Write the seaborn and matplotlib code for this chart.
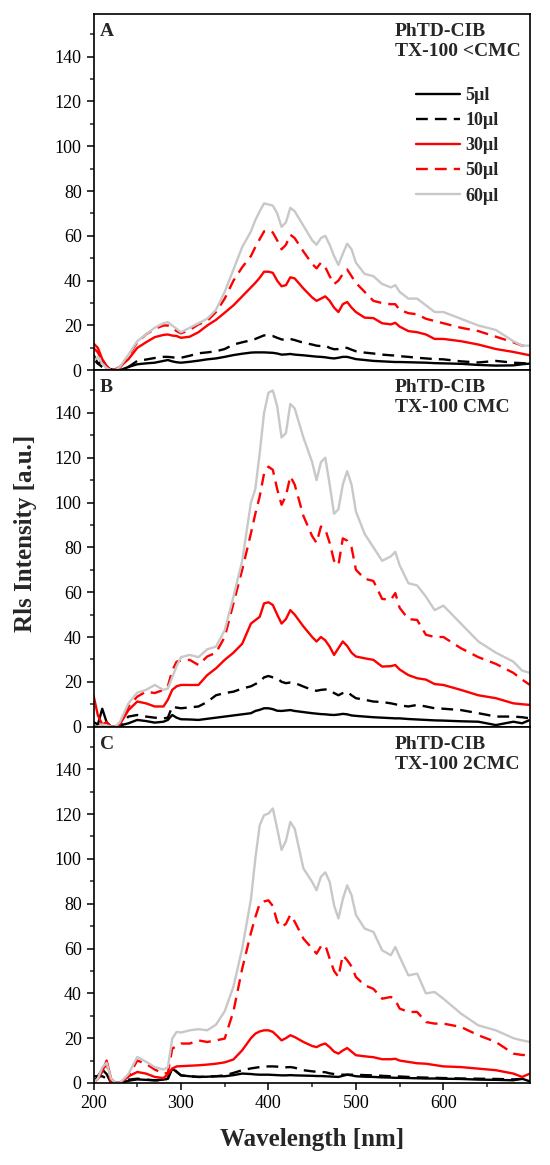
#!/usr/bin/env python3
"""RLS spectra of PhTD-CIB with TX-100 at three surfactant levels."""
import numpy as np
import pandas as pd
import matplotlib
matplotlib.use("Agg")
import matplotlib.pyplot as plt
from matplotlib.ticker import MultipleLocator
import seaborn as sns

wavelength = [200, 205, 210, 215, 220, 225, 230,
              240, 250, 260, 270, 280, 285, 290, 295, 300,
              310, 320, 330, 340, 350, 360, 370, 380, 385, 390, 395, 400, 405, 410, 415, 420, 425, 430,
              440, 450, 455, 460, 465, 470, 475, 480, 485, 490, 495, 500,
              510, 520, 530, 540, 545, 550, 560, 570, 580, 590, 600,
              620, 640, 660, 680, 690, 699]

labels = ["5µl", "10µl", "30µl", "50µl", "60µl"]

# panel A: TX-100 < CMC
a_5 = [7, 3, 4, 1, 0.5, 0, 0,
       1.5, 2.7, 3.1, 3.4, 4.2, 4.6, 4, 3.6, 3.4,
       3.8, 4.3, 4.9, 5.3, 6, 6.8, 7.4, 7.9, 8, 8, 8, 7.9, 7.8, 7.5, 7, 7.1, 7.3, 7,
       6.7, 6.3, 6.1, 6, 5.8, 5.5, 5.3, 5.6, 6, 6, 5.5, 5,
       4.6, 4.2, 4, 3.8, 3.7, 3.7, 3.6, 3.5, 3.4, 3.2, 3.1,
       2.9, 2.4, 2.1, 2.2, 2.7, 3]
a_10 = [5, 3, 1.5, 0.5, 0, 0, 0.5,
        1.5, 4.2, 4.8, 5.5, 6, 6, 5.8, 5.6, 5.6,
        6.5, 7.6, 8, 8.5, 9.5, 11.5, 12.5, 13.4, 14, 14.8, 15.6, 15.5, 15.3, 14.5, 13.8, 13.5, 14, 13.5,
        12.3, 11.5, 11, 10.8, 11, 10, 9.4, 9.5, 10, 10, 9.2, 8.5,
        7.9, 7.5, 7, 6.7, 6.6, 6.3, 6, 5.6, 5.3, 5, 4.9,
        4, 3.5, 4.2, 3.4, 3.2, 3]
a_30 = [12, 10, 5, 2, 0, 0.5, 1.5,
        5, 10, 12.5, 14.8, 15.8, 16, 15.5, 15.3, 14.5,
        15, 17, 20, 22.5, 25.7, 29, 33, 37, 39, 41.3, 44, 44, 43.5, 40, 37.5, 38, 41.5, 41,
        36.5, 32.5, 31, 32, 33, 31, 28, 26, 29.5, 30.5, 28, 26,
        23.5, 23.3, 21, 20.5, 21.2, 19.5, 17.5, 17, 16, 14, 14,
        13, 11.5, 9.5, 8.2, 7.4, 6.7]
a_50 = [10, 8, 4, 1.5, 0, 0, 1,
        6.5, 12.5, 16, 18.5, 20, 20, 19, 17.5, 16.5,
        18, 20.5, 22, 26, 32, 40, 46, 51, 55, 58.5, 62, 62.5, 61.5, 58, 54, 56, 60.5, 59,
        53, 47.5, 45.5, 48, 46, 42, 38.5, 40, 43, 45, 42, 39,
        35, 31, 30, 29.5, 29.5, 27, 25.5, 25, 23, 22, 21,
        19, 17.5, 15, 12.5, 11, 10.5]
a_60 = [4, 6, 3, 1, 0, 0, 1.5,
        7, 13, 16, 19, 21, 21.5, 20, 18.5, 17,
        19, 21, 23, 27, 35, 45, 55, 62, 67, 71, 74.5, 74, 73.5, 70, 64, 66, 72.5, 71,
        64.5, 58, 56, 59, 60, 56, 51, 47, 52, 56.5, 54, 48,
        43, 42, 38.5, 37, 38, 35, 32, 32, 29, 26, 26,
        23, 20, 18, 13, 11, 11]

# panel B: TX-100 CMC
b_5 = [2, 1, 8, 2, 0, 0, 0.5,
       1.5, 3, 2.5, 1.8, 2.2, 3, 5.2, 4, 3.3,
       3.2, 3, 3.5, 4, 4.5, 5, 5.5, 6, 7, 7.5, 8.2, 8.2, 7.8, 7.1, 7, 7.2, 7.4, 7,
       6.5, 6, 5.8, 5.6, 5.5, 5.3, 5.2, 5.4, 5.7, 5.5, 5, 4.8,
       4.5, 4.2, 4, 3.8, 3.7, 3.7, 3.4, 3.2, 3, 2.8, 2.7,
       2.4, 2.2, 0.7, 2.2, 1.5, 3]
b_10 = [0, 0, 1, 0.5, 0, 0, 0.5,
        4.5, 5.2, 4.5, 4, 3.7, 4, 9, 8.5, 8.2,
        8.6, 9, 11, 14, 15, 15.6, 17, 18, 19, 20, 22, 22.6, 22, 21.6, 20, 19.4, 19.7, 19.5,
        17.9, 16.4, 16, 16.4, 16.6, 16.4, 15, 14, 15, 15.6, 14, 12.7,
        12, 11.2, 11, 10.4, 10, 9.5, 9, 9.7, 9, 8.2, 8,
        7.4, 6, 4.5, 4.5, 4.2, 3.7]
b_30 = [14, 5, 1, 2, 0, 0, 1,
        7.4, 11.2, 10.4, 9, 9, 12, 16.4, 18, 18.6,
        18.6, 18.6, 23, 26, 29.8, 33, 37, 46, 47.5, 49, 55, 55.5, 54.3, 50, 46, 48, 52, 50,
        44.7, 40, 38, 40, 38.5, 35.7, 32, 35, 38, 36, 33, 31.3,
        30.5, 29.8, 26.8, 27, 27.5, 25.5, 23, 21.6, 21, 19, 18.6,
        16.4, 14, 12.7, 10.4, 10, 9.7]
b_50 = [0, 0, 1, 0.5, 0, 0, 1,
        9, 13.4, 15.6, 15, 16.4, 18, 25, 29, 29.5,
        29.8, 27.5, 31.3, 33, 40, 55, 70, 86.3, 95, 102.7, 113, 116, 114.6, 106, 99, 103, 111.7, 108,
        94, 85, 82, 89.3, 88, 82, 74, 72, 84, 83, 80, 70,
        66, 65, 57, 56.6, 59.6, 53, 48, 47.6, 41, 40, 40,
        35, 31, 28, 24, 21, 18.6]
b_60 = [0, 0, 1, 0.5, 0, 0, 2,
        10.4, 15.2, 16.4, 18.6, 16.4, 17, 22, 27, 31,
        32, 31, 34.5, 35.7, 43, 58, 74, 100, 106, 122, 140, 149, 150, 143, 129, 131, 144, 142,
        129, 118, 110, 118, 120, 108, 95, 97, 108, 114, 108, 96,
        86, 80, 74, 76, 78, 72, 64, 63, 58, 52, 54,
        46, 38, 33, 29, 25, 24]

# panel C: TX-100 2CMC
c_5 = [0, 3, 6, 4, 0, 0, 0,
       1, 1.6, 1.4, 1.2, 1.5, 1.9, 6.4, 5, 3.4,
       3, 2.7, 2.8, 3, 3, 3.5, 4.2, 4, 3.8, 3.7, 3.7, 3.7, 3.6, 3.5, 3.4, 3.4, 3.5, 3.4,
       3.3, 3.2, 3.1, 3.1, 3, 2.9, 2.8, 2.7, 3.2, 3.7, 3.4, 3,
       2.8, 2.7, 2.5, 2.4, 2.3, 2.3, 2.2, 2.1, 2, 2, 1.9,
       1.8, 1.5, 1.4, 1.2, 1.9, 0.7]
c_10 = [3, 3, 3, 2, 0, 0, 0,
        1.5, 1.9, 1.5, 1.2, 1.2, 2, 7.1, 5, 3.4,
        3, 2.7, 2.8, 3, 3.4, 4.5, 5.7, 6.5, 6.8, 7.1, 7.3, 7.4, 7.4, 7.3, 7, 7, 7.1, 6.8,
        5.7, 5.2, 5, 4.9, 4.8, 4.3, 4, 3.7, 3.7, 3.7, 3.7, 3.7,
        3.5, 3.4, 3.2, 3, 3, 2.9, 2.7, 2.5, 2.4, 2.3, 2.2,
        2, 1.9, 1.8, 1.6, 1.8, 1.9]
c_30 = [0, 2, 5, 10, 2, 0, 0,
        3, 4.9, 4.2, 2.7, 2.2, 4, 6.4, 7.4, 7.5,
        7.7, 7.9, 8.2, 8.6, 9.2, 10.5, 14.6, 20, 22, 23, 23.5, 23.5, 22.8, 21, 19, 20, 21.3, 20.5,
        18.3, 16.5, 16, 17, 17.6, 16, 14, 13.1, 14.5, 15.6, 14, 12.4,
        11.9, 11.5, 10.6, 10.6, 10.8, 10, 9.4, 8.8, 8.6, 8, 7.4,
        7.1, 6.4, 5.7, 4.2, 2.7, 4.2]
c_50 = [0, 2, 5, 9, 0, 0, 0,
        3, 10, 8.6, 6, 4.2, 4.5, 15.3, 16.5, 17.6,
        17.6, 19, 18.3, 19, 19.8, 32, 51, 67, 74, 80, 81, 81.5, 79, 72, 69.6, 71, 75, 72,
        64.4, 60, 57.7, 61, 61.5, 55.5, 50, 47.3, 57, 54.8, 52, 47.3,
        43.6, 42, 37.6, 38.4, 37, 33.2, 31.7, 31.7, 27.2, 26.5, 26.5,
        25, 21.3, 18.3, 13.1, 12.5, 12.4]
c_60 = [0, 2, 7, 9, 2, 0, 0,
        4, 11.6, 9.5, 7.1, 6, 7, 19.8, 22.8, 22.5,
        23.5, 24, 23.5, 26, 32, 43, 60, 82, 100, 115, 119.5, 120.2, 122.5, 113.5, 104, 108, 116.5, 113.5,
        95.7, 89.7, 86, 92, 94, 89.7, 79.3, 73.4, 82, 88.2, 83.8, 75,
        68.9, 67.4, 59.2, 57, 60.7, 56.3, 48, 48.8, 40, 40.6, 37.6,
        31, 25.7, 23.5, 20, 19, 18.3]

panels = [
    ("A", "PhTD-CIB\nTX-100 <CMC", [a_5, a_10, a_30, a_50, a_60]),
    ("B", "PhTD-CIB\nTX-100 CMC", [b_5, b_10, b_30, b_50, b_60]),
    ("C", "PhTD-CIB\nTX-100 2CMC", [c_5, c_10, c_30, c_50, c_60]),
]

colors = ["black", "black", "#ff0000", "#ff0000", "#c8c8c8"]
dash = (0, (5, 3))
styles = ["-", dash, "-", dash, "-"]

sns.set_theme(style="ticks")
plt.rcParams["font.family"] = ["Liberation Serif", "DejaVu Serif"]
plt.rcParams["axes.linewidth"] = 1.2

fig, axes = plt.subplots(3, 1, figsize=(5.5, 11.65), dpi=100, sharex=True)
fig.subplots_adjust(left=0.170, right=0.9636, bottom=0.0704, top=0.988, hspace=0)

for i, (ax, (letter, title, series)) in enumerate(zip(axes, panels)):
    for vals, lbl, col, ls in zip(series, labels, colors, styles):
        df = pd.DataFrame({"wl": wavelength, "rls": vals})
        sns.lineplot(data=df, x="wl", y="rls", ax=ax, color=col, linestyle=ls,
                     linewidth=1.7, label=lbl if i == 0 else None, estimator=None)
    ax.set_xlim(200, 699)
    ax.set_ylim(0, 159)
    ax.yaxis.set_major_locator(MultipleLocator(20))
    ax.yaxis.set_minor_locator(MultipleLocator(10))
    ax.xaxis.set_major_locator(MultipleLocator(100))
    ax.xaxis.set_minor_locator(MultipleLocator(50))
    ax.tick_params(axis="both", which="major", direction="out", length=5,
                   width=1.1, labelsize=13, color="black", labelcolor="black")
    ax.tick_params(axis="both", which="minor", direction="out", length=3, width=1.1)
    if i < 2:
        ax.tick_params(axis="x", which="both", bottom=False, labelbottom=False)
    for sp in ax.spines.values():
        sp.set_visible(True)
        sp.set_color("black")
        sp.set_linewidth(1.2)
    ax.set_xlabel("")
    ax.set_ylabel("")
    ax.text(0.015, 0.975, letter, transform=ax.transAxes, ha="left", va="top",
            fontsize=14, fontweight="bold")
    ax.text(0.69, 0.975, title, transform=ax.transAxes, ha="left", va="top",
            fontsize=14, fontweight="bold", linespacing=1.25)
    if i == 0:
        ax.legend(loc="upper left", bbox_to_anchor=(0.74, 0.795), frameon=False,
                  prop={"weight": "bold", "size": 13}, handlelength=2.4,
                  handletextpad=0.3, labelspacing=0.45, borderaxespad=0, borderpad=0)
    elif ax.get_legend() is not None:
        ax.get_legend().remove()

fig.text(0.047, 0.5425, "Rls Intensity [a.u.]", rotation=90, ha="center", va="center",
         fontsize=18, fontweight="bold")
fig.text(0.567, 0.0215, "Wavelength [nm]", ha="center", va="center",
         fontsize=18, fontweight="bold")

fig.savefig("out.png", dpi=100)
